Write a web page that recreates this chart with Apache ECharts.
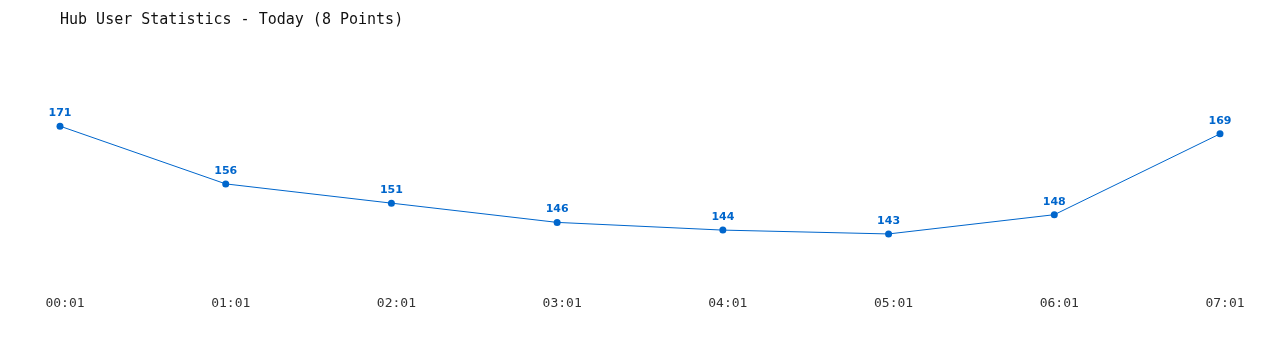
<!DOCTYPE html>
<html>
<head>
<meta charset="utf-8">
<script src="https://cdn.jsdelivr.net/npm/echarts@6/dist/echarts.min.js"></script>
<style>
html,body{margin:0;padding:0;background:#fff;}
#chart{width:1280px;height:350px;}
</style>
</head>
<body>
<div id="chart"></div>
<script>
const categories = ["00:01","01:01","02:01","03:01","04:01","05:01","06:01","07:01"];
const users = [171,156,151,146,144,143,148,169];
const titleText = "Hub User Statistics - Today (8 Points)";

const chart = echarts.init(document.getElementById('chart'));
chart.setOption({
  animation: false,
  backgroundColor: '#ffffff',
  title: {
    text: titleText,
    left: 55, top: 8,
    textStyle: {fontFamily: 'DejaVu Sans Mono', fontSize: 15, fontWeight: 'normal', color: '#111'}
  },
  grid: {left: 60, right: 60, top: 53, bottom: 66},
  xAxis: {
    type: 'category', data: categories, boundaryGap: false,
    axisLine: {show: false}, axisTick: {show: false}, splitLine: {show: false},
    axisLabel: {fontFamily: 'DejaVu Sans Mono', fontSize: 13, color: '#333', margin: 13, padding: [0,0,0,10]}
  },
  yAxis: {
    type: 'value', min: 130, max: 190, show: false, splitLine: {show: false}
  },
  series: [{
    type: 'line', data: users,
    symbol: 'circle', symbolSize: 7,
    lineStyle: {color: '#0066cc', width: 1},
    itemStyle: {color: '#0066cc'},
    label: {show: true, position: 'top', distance: 4, color: '#0066cc',
      fontFamily: 'DejaVu Sans', fontWeight: 'bold', fontSize: 11}
  }]
});
</script>
</body>
</html>
